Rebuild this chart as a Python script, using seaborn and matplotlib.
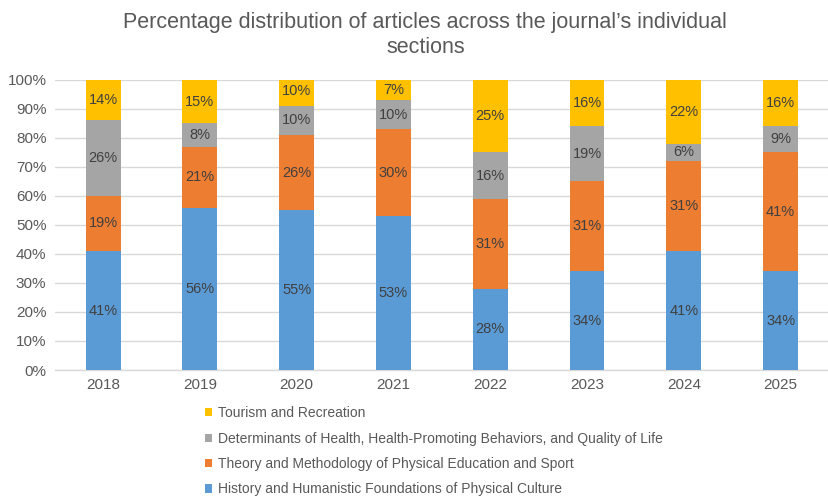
import matplotlib
matplotlib.use("Agg")
import matplotlib.pyplot as plt
from matplotlib.patches import Patch
import numpy as np
import pandas as pd
import seaborn as sns

years = ["2018", "2019", "2020", "2021", "2022", "2023", "2024", "2025"]
history = [41, 56, 55, 53, 28, 34, 41, 34]
theory = [19, 21, 26, 30, 31, 31, 31, 41]
health = [26, 8, 10, 10, 16, 19, 6, 9]
tourism = [14, 15, 10, 7, 25, 16, 22, 16]

series_names = [
    "History and Humanistic Foundations of Physical Culture",
    "Theory and Methodology of Physical Education and Sport",
    "Determinants of Health, Health-Promoting Behaviors, and Quality of Life",
    "Tourism and Recreation",
]
series_values = [history, theory, health, tourism]
colors = ["#5B9BD5", "#ED7D31", "#A5A5A5", "#FFC000"]

sns.set_theme(style="white")
plt.rcParams["font.family"] = ["Liberation Sans", "DejaVu Sans"]

fig = plt.figure(figsize=(8.29, 4.96), dpi=100)
ax = fig.add_axes([0.066, 0.254, 0.934, 0.585])

vals = np.array(series_values, dtype=float)
cum = np.cumsum(vals, axis=0)

# Stacked bars: draw cumulative totals from the top layer down
for i in range(len(series_names) - 1, -1, -1):
    df = pd.DataFrame({"year": years, "total": cum[i]})
    sns.barplot(data=df, x="year", y="total", color=colors[i], width=0.36,
                saturation=1, ax=ax, zorder=3, linewidth=0)

# Segment labels
for i in range(len(series_names)):
    for j in range(len(years)):
        mid = cum[i, j] - vals[i, j] / 2
        ax.text(j, mid, f"{int(vals[i, j])}%", ha="center", va="center",
                fontsize=10.5, color="#404040", zorder=4)

ax.set_ylim(0, 100)
ax.set_xlim(-0.5, len(years) - 0.5)
ax.set_yticks(np.arange(0, 101, 10))
ax.set_yticklabels([f"{t}%" for t in range(0, 101, 10)])
ax.set_xlabel("")
ax.set_ylabel("")
ax.tick_params(axis="both", labelsize=11, colors="#595959", length=0, pad=6)
ax.yaxis.grid(True, color="#D9D9D9", linewidth=1, zorder=0)
ax.set_axisbelow(True)
for s in ["top", "right", "left"]:
    ax.spines[s].set_visible(False)
ax.spines["bottom"].set_color("#D9D9D9")
ax.spines["bottom"].set_linewidth(1)

fig.text(0.513, 0.929, "Percentage distribution of articles across the journal\u2019s individual\nsections",
         ha="center", va="center", fontsize=15.5, color="#595959", linespacing=1.25)

handles = [Patch(facecolor=colors[i], edgecolor="none") for i in range(3, -1, -1)]
labels = [series_names[i] for i in range(3, -1, -1)]
fig.legend(handles, labels, loc="upper left", bbox_to_anchor=(0.247, 0.181),
           frameon=False, fontsize=10, labelcolor="#595959",
           handlelength=0.55, handleheight=0.55, handletextpad=0.4,
           labelspacing=0.82, borderaxespad=0, borderpad=0)

fig.savefig("out.png", dpi=100)
